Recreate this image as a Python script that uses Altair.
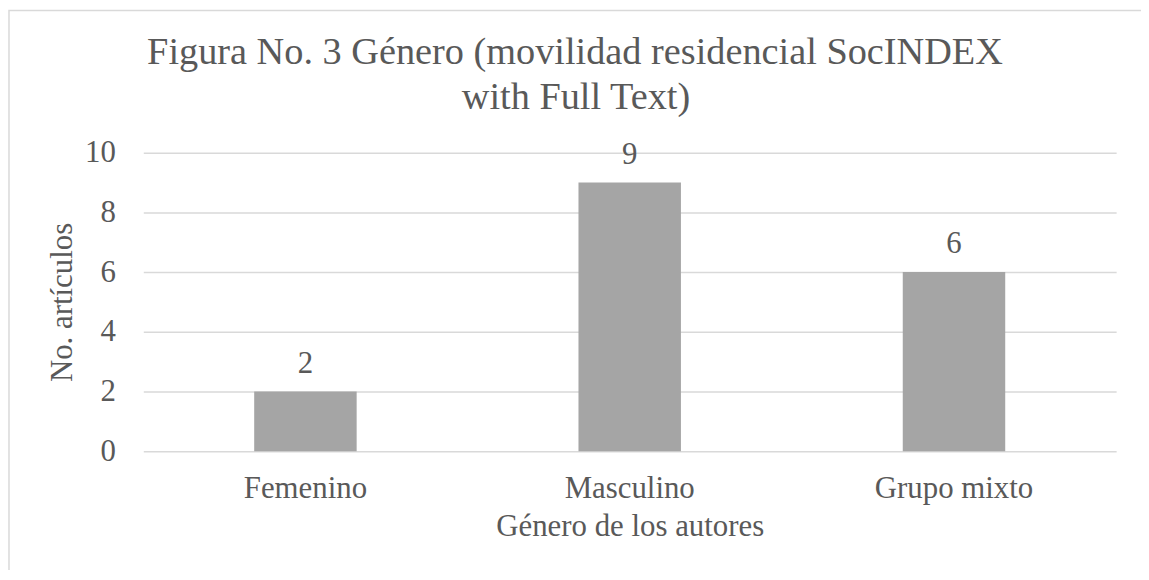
import altair as alt
import pandas as pd

categories = ["Femenino", "Masculino", "Grupo mixto"]
values = [2, 9, 6]
y_ticks = [0, 2, 4, 6, 8, 10]
title_lines = ["Figura No. 3 Género (movilidad residencial SocINDEX", "with Full Text)"]

df = pd.DataFrame({"genero": categories, "articulos": values})

FONT = "Liberation Serif"
TXT = "#595959"

base = alt.Chart(df)

border = alt.Chart(alt.Data(values=[{}])).mark_rect(
    fill=None, stroke="#D9D9D9", strokeWidth=1.5
).encode(
    x=alt.value(-135), x2=alt.value(1030), y=alt.value(-143), y2=alt.value(450)
)

title1 = alt.Chart(alt.Data(values=[{"t": title_lines[0]}])).mark_text(
    font=FONT, fontSize=38.5, color=TXT, align="center", baseline="alphabetic"
).encode(x=alt.value(434), y=alt.value(-89), text="t:N")

title2 = alt.Chart(alt.Data(values=[{"t": title_lines[1]}])).mark_text(
    font=FONT, fontSize=38.5, color=TXT, align="center", baseline="alphabetic"
).encode(x=alt.value(435), y=alt.value(-44), text="t:N")

bars = base.mark_bar(color="#A5A5A5", size=103).encode(
    x=alt.X("genero:N", sort=categories,
            scale=alt.Scale(paddingInner=0, paddingOuter=0),
            axis=alt.Axis(title="Género de los autores", labelAngle=0,
                          ticks=False, domain=False, labelPadding=47,
                          labelBaseline="alphabetic",
                          titleBaseline="alphabetic", titleY=85)),
    y=alt.Y("articulos:Q", scale=alt.Scale(domain=[0, 10], nice=False),
            axis=alt.Axis(title="No. artículos", values=y_ticks, ticks=False,
                          domain=False, labelPadding=28,
                          titleBaseline="alphabetic", titleX=-72, titleY=150,
                          titleAngle=270,
                          grid=True, gridColor="#D9D9D9", gridWidth=1.5)),
)

labels = base.mark_text(baseline="alphabetic", dy=-19, font=FONT, fontSize=31,
                        color=TXT).encode(
    x=alt.X("genero:N", sort=categories),
    y=alt.Y("articulos:Q"),
    text=alt.Text("articulos:Q"),
)

chart = alt.layer(border, title1, title2, bars, labels).properties(
    width=978,
    height=300,
    autosize=alt.AutoSizeParams(type="none"),
    padding={"left": 136, "top": 144, "right": 25, "bottom": 118},
    background="white",
).configure_view(stroke=None).configure_axis(
    labelFont=FONT, titleFont=FONT, labelFontSize=31, titleFontSize=31,
    labelColor=TXT, titleColor=TXT, titleFontWeight="normal",
)

chart.save("out.html", embed_options={"renderer": "svg", "actions": False})
